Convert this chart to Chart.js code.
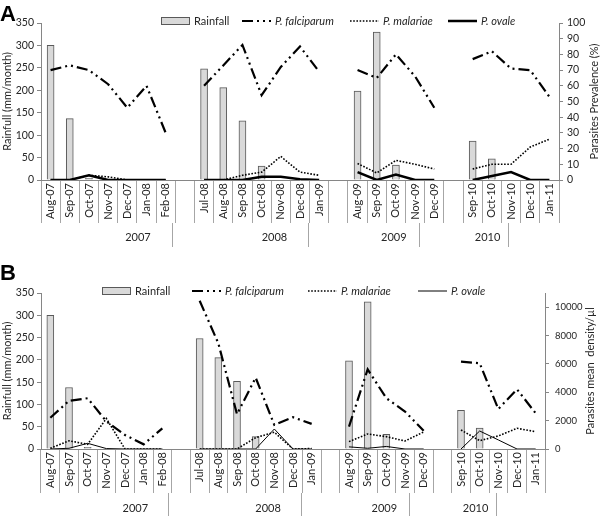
<!DOCTYPE html>
<html>
<head>
<meta charset="utf-8">
<script src="https://cdn.jsdelivr.net/npm/chart.js@4.4.1/dist/chart.umd.min.js"></script>
<style>
  body { margin: 0; background: #fff; }
  #wrap { width: 600px; height: 516px; }
  canvas { display: block; }
</style>
</head>
<body>
<div id="wrap">
  <canvas id="chartA" width="600" height="258"></canvas>
  <canvas id="chartB" width="600" height="258"></canvas>
</div>
<script>
// blank entries are the gaps between survey years
const months = ['Aug-07','Sep-07','Oct-07','Nov-07','Dec-07','Jan-08','Feb-08','',
  'Jul-08','Aug-08','Sep-08','Oct-08','Nov-08','Dec-08','Jan-09','',
  'Aug-09','Sep-09','Oct-09','Nov-09','Dec-09','',
  'Sep-10','Oct-10','Nov-10','Dec-10','Jan-11'];
const years = ['2007', '2008', '2009', '2010'];
const yearStarts = [0, 8, 16, 22, 27];
const rainTicks = [0, 50, 100, 150, 200, 250, 300, 350];
const prevalenceTicks = [0, 10, 20, 30, 40, 50, 60, 70, 80, 90, 100];
const densityTicks = [0, 2000, 4000, 6000, 8000, 10000];

// panel A : prevalence (%)
const rainfallA = [300,137,4,0,0,0,0,null, 248,206,132,31,0,0,0,null, 198,330,33,0,0,null, 87,47,0,0,0];
const falciparumA = [70,73,70,61,46,60,30,null, 60,73,86,54,72,85,69,null, 70,65,80,66,46,null, 77,82,71,70,53];
const malariaeA = [0,0,3,2,0,0,0,null, 0,0,3,5,15,5,3,null, 10.5,4.5,12.5,10,7,null, 7,10,10,21,26];
const ovaleA = [0,0,3,0,0,0,0,null, 0,0,0,2,2,0.5,0,null, 5,0,3.5,0,0,null, 0,2.5,5,0,0];

// panel B : mean density (/µl)
const rainfallB = [300,138,4,0,0,0,0,null, 248,205,152,28,0,0,0,null, 198,330,33,0,0,null, 87,47,0,0,0];
const falciparumB = [2200,3400,3580,1950,990,330,1460,null, 10450,7450,2450,5030,1700,2240,1770,null, 1580,5620,3580,2640,1290,null, 6160,6050,2820,4210,2520];
const malariaeB = [50,580,330,2150,0,0,0,null, 0,0,0,800,1180,0,30,null, 520,1060,870,565,1200,null, 1340,590,920,1460,1220];
const ovaleB = [0,50,400,30,0,0,0,null, 0,0,0,0,1410,0,0,null, 150,50,180,0,0,null, 0,1270,640,0,0];

const yearCenters = years.map((y, i) => (yearStarts[i] + yearStarts[i + 1]) / 2);

const AXIS = '#868686';
const SEP = '#a6a6a6';
const TXT = '#262626';
const FONT = 'Lato';

// legend, panel letter and right-hand title (drawn bottom-to-top like the original)
const decor = {
  id: 'decor',
  afterDraw(chart, args, o) {
    const ctx = chart.ctx;
    const a = chart.chartArea;
    ctx.save();
    ctx.fillStyle = '#000';
    ctx.font = 'bold 22px "Liberation Sans"';
    ctx.textBaseline = 'top';
    ctx.fillText(o.letter, 0, o.letterY);

    ctx.textBaseline = 'middle';
    chart.data.datasets.forEach((ds, i) => {
      const x = o.legendX[i], y = o.legendY;
      if (ds.type === 'line') {
        ctx.strokeStyle = ds.borderColor;
        ctx.lineWidth = ds.borderWidth;
        ctx.setLineDash(ds.borderDash || []);
        ctx.beginPath();
        ctx.moveTo(x, y);
        ctx.lineTo(x + 29, y);
        ctx.stroke();
        ctx.setLineDash([]);
      } else {
        ctx.fillStyle = ds.backgroundColor;
        ctx.fillRect(x, y - 4, 29, 8);
        ctx.strokeStyle = ds.borderColor;
        ctx.lineWidth = 1;
        ctx.strokeRect(x + 0.5, y - 3.5, 28, 7);
      }
      ctx.fillStyle = TXT;
      ctx.font = (ds.type === 'line' ? 'italic ' : '') + '11px ' + FONT;
      ctx.fillText(ds.label, x + 33, y);
    });

    ctx.translate(o.titleX, (a.top + a.bottom) / 2);
    ctx.rotate(-Math.PI / 2);
    ctx.textAlign = 'center';
    ctx.font = '11px ' + FONT;
    ctx.fillStyle = TXT;
    ctx.fillText(o.rightTitle, 0, 0);
    ctx.restore();
  }
};

function makeChart(id, rain, falc, mal, ova, cfg) {
  return new Chart(document.getElementById(id), {
    type: 'bar',
    plugins: [decor],
    data: {
      labels: months,
      datasets: [
        { label: 'Rainfall', data: rain, backgroundColor: '#d9d9d9', borderColor: '#595959',
          borderWidth: 1, barThickness: 7, xAxisID: 'x', yAxisID: 'y', order: 4 },
        { type: 'line', label: 'P. falciparum', data: falc, borderColor: '#000', borderWidth: 2.2,
          borderDash: [11, 4, 2, 4, 2, 4], pointRadius: 0, tension: 0, xAxisID: 'x', yAxisID: 'y1', order: 1 },
        { type: 'line', label: 'P. malariae', data: mal, borderColor: '#000', borderWidth: 1.6,
          borderDash: [1.6, 1.6], pointRadius: 0, tension: 0, xAxisID: 'x', yAxisID: 'y1', order: 2 },
        { type: 'line', label: 'P. ovale', data: ova, borderColor: '#000', borderWidth: cfg.ovaleWidth,
          pointRadius: 0, tension: 0, xAxisID: 'x', yAxisID: 'y1', order: 3 }
      ]
    },
    options: {
      responsive: false,
      animation: false,
      layout: { padding: { top: cfg.top, left: 0, right: 0, bottom: 0 } },
      font: { family: FONT, size: 11 },
      color: TXT,
      plugins: {
        legend: { display: false },
        tooltip: { enabled: false },
        decor: cfg.decor
      },
      scales: {
        x: {
          type: 'category', offset: true, weight: 0,
          grid: { offset: true, drawOnChartArea: false, tickLength: cfg.monthH, color: SEP },
          border: { color: AXIS },
          ticks: { autoSkip: false, minRotation: 90, maxRotation: 90, padding: 3 - cfg.monthH,
                   color: TXT, font: { family: FONT, size: 11 } },
          afterFit: s => { s.height = cfg.monthH; }
        },
        x2: {
          type: 'linear', position: 'bottom', min: 0, max: 27, weight: 1,
          afterBuildTicks: s => {
            s.ticks = yearStarts.concat(yearCenters).sort((p, q) => p - q).map(v => ({ value: v }));
          },
          grid: { drawOnChartArea: false, tickLength: cfg.yearTick,
                  color: c => (c.tick && yearStarts.includes(c.tick.value)) ? SEP : 'rgba(0,0,0,0)' },
          border: { display: false },
          ticks: { autoSkip: false, maxRotation: 0, padding: cfg.yearPad, color: TXT,
                   font: { family: FONT, size: 11 },
                   callback: v => { const k = yearCenters.indexOf(v); return k >= 0 ? years[k] : ''; } },
          afterFit: s => { s.height = cfg.yearH; }
        },
        y: {
          position: 'left', min: 0, max: 350,
          afterBuildTicks: s => { s.ticks = rainTicks.map(v => ({ value: v })); },
          grid: { drawOnChartArea: false, tickLength: 4, color: AXIS },
          border: { color: AXIS },
          ticks: { padding: 3, color: TXT, font: { family: FONT, size: 10.5 },
                   callback: v => String(v) },
          title: { display: true, text: 'Rainfull (mm/month)', padding: 1, color: TXT,
                   font: { family: FONT, size: 11 } },
          afterFit: s => { s.width = 41; }
        },
        y1: {
          position: 'right', min: 0, max: cfg.rightMax,
          afterBuildTicks: s => { s.ticks = cfg.rightTicks.map(v => ({ value: v })); },
          grid: { drawOnChartArea: false, tickLength: 4, color: AXIS },
          border: { color: AXIS },
          ticks: { padding: cfg.rightPad, color: TXT, font: { family: FONT, size: cfg.rightFont },
                   callback: v => String(v) },
          afterFit: s => { s.width = cfg.rightW; }
        }
      }
    }
  });
}

makeChart('chartA', rainfallA, falciparumA, malariaeA, ovaleA, {
  top: 23, monthH: 43, yearH: 35, yearTick: 24, yearPad: -16,
  rightMax: 100, rightTicks: prevalenceTicks, rightW: 41, rightPad: 4, rightFont: 10.5, ovaleWidth: 2.5,
  decor: { letter: 'A', letterY: 4, legendX: [161, 242, 350, 448], legendY: 21,
           titleX: 594, rightTitle: 'Parasites Prevalence (%)' }
});

makeChart('chartB', rainfallB, falciparumB, malariaeB, ovaleB, {
  top: 35, monthH: 44, yearH: 23, yearTick: 23, yearPad: -14,
  rightMax: 11000, rightTicks: densityTicks, rightW: 55, rightPad: 6, rightFont: 9.5, ovaleWidth: 1,
  decor: { letter: 'B', letterY: 5, legendX: [102, 192, 308, 418], legendY: 33,
           titleX: 590, rightTitle: 'Parasites mean  density/µl' }
});
</script>
</body>
</html>
